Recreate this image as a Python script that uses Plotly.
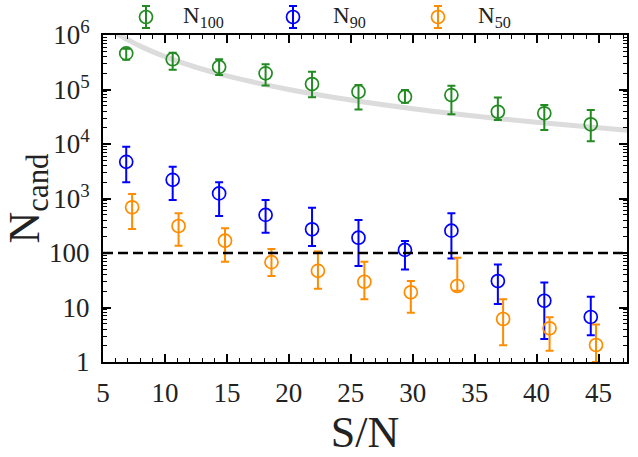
import plotly.graph_objects as go

# ---------------- data ----------------
sn_bins = [6.875, 10.625, 14.375, 18.125, 21.875, 25.625, 29.375, 33.125, 36.875, 40.625, 44.375]
sn_bins_n50 = [7.35, 11.1, 14.85, 18.6, 22.35, 26.1, 29.85, 33.6, 37.3, 41.05, 44.8]

n100 = [4.6e5, 3.6e5, 2.6e5, 1.98e5, 1.26e5, 9.1e4, 7.4e4, 7.9e4, 3.9e4, 3.66e4, 2.3e4]
n100_hi = [5.6e5, 4.7e5, 3.6e5, 2.9e5, 2.12e5, 1.21e5, 9.8e4, 1.17e5, 7.1e4, 5.2e4, 4.2e4]
n100_lo = [3.5e5, 2.3e5, 1.85e5, 1.19e5, 7.2e4, 4.3e4, 5.7e4, 3.5e4, 2.75e4, 1.8e4, 1.12e4]

n90 = [4.7e3, 2.2e3, 1.24e3, 500, 272, 191, 114, 257, 30.6, 13.3, 6.7]
n90_hi = [8.9e3, 3.84e3, 1.98e3, 938, 676, 404, 166, 535, 61.7, 28.8, 15.8]
n90_lo = [1.98e3, 938, 478, 235, 134, 57.7, 50, 79, 11.6, 2.63, 3.1]

n50 = [690, 313, 168, 68, 47, 29.7, 19, 24.8, 6.15, 4.15, 2.05]
n50_hi = [1.21e3, 535, 284, 118, 106, 69, 30.6, 82, 14.1, 6.6, 4.9]
n50_lo = [275, 136, 69, 37.8, 22.1, 14.1, 8.0, 20.4, 2.04, 1.61, 1.0]

# grey model curve
curve_x = [5.5, 7, 8, 10, 12.5, 15, 20, 25, 30, 35, 40, 47.3]
curve_y = [1.25e6, 8.2e5, 6.25e5, 4.0e5, 2.56e5, 1.78e5, 1.0e5, 6.4e4, 4.44e4, 3.27e4, 2.5e4, 1.79e4]

threshold = 100

series_names = ["N<sub>100</sub>", "N<sub>90</sub>", "N<sub>50</sub>"]
colors = ["#228B22", "#0000FF", "#FF8C00"]

x_ticks = [5, 10, 15, 20, 25, 30, 35, 40, 45]
y_tickvals = [1, 10, 100, 1e3, 1e4, 1e5, 1e6]
y_ticktext = ["1", "10", "100", "10<sup>3</sup>", "10<sup>4</sup>", "10<sup>5</sup>", "10<sup>6</sup>"]

# ---------------- layout constants ----------------
W, H = 638, 457
ML, MR, MB = 103, 11, 95
PLOT_TOP = 35
FONT = "Liberation Serif"
TXT = "#222222"
MSIZE = 13

fig = go.Figure()

fig.add_trace(go.Scatter(x=curve_x, y=curve_y, mode="lines",
                         line=dict(color="#dcdcdc", width=5, shape="spline"),
                         showlegend=False, hoverinfo="skip"))

fig.add_hline(y=threshold, line=dict(color="black", width=2.5, dash="10px,5px"))

def add_series(x, y, lo, hi, color):
    fig.add_trace(go.Scatter(
        x=x, y=y, mode="markers",
        marker=dict(symbol="circle-open", size=MSIZE, color=color, line=dict(width=1.7, color=color)),
        error_y=dict(type="data", symmetric=False,
                     array=[h - v for h, v in zip(hi, y)],
                     arrayminus=[v - l for l, v in zip(lo, y)],
                     color=color, thickness=2, width=4),
        showlegend=False))

add_series(sn_bins, n100, n100_lo, n100_hi, colors[0])
add_series(sn_bins, n90, n90_lo, n90_hi, colors[1])
add_series(sn_bins_n50, n50, n50_lo, n50_hi, colors[2])

# manual legend (marker with error bar + label) in the top strip
leg_marker_px = [146, 293, 438]
leg_text_px = [181, 331, 476]
for name, col, mx, tx in zip(series_names, colors, leg_marker_px, leg_text_px):
    fig.add_trace(go.Scatter(
        x=[mx], y=[17], xaxis="x2", yaxis="y2", mode="markers",
        marker=dict(symbol="circle-open", size=MSIZE, color=col, line=dict(width=1.7, color=col)),
        error_y=dict(type="constant", value=11, color=col, thickness=2, width=4),
        showlegend=False, hoverinfo="skip", cliponaxis=False))
    fig.add_annotation(x=tx, y=17, xref="x2", yref="y2", text=name, showarrow=False,
                       xanchor="left", yanchor="middle",
                       font=dict(family=FONT, size=23, color=TXT))

plot_h = H - MB
dom_top = (plot_h - PLOT_TOP) / plot_h

axis_common = dict(showline=True, linecolor="black", linewidth=2, mirror="ticks",
                   ticks="inside", ticklen=8, tickwidth=1.5, tickcolor="black",
                   showgrid=False, zeroline=False, automargin=False,
                   tickfont=dict(family=FONT, size=27, color=TXT))

fig.update_layout(
    width=W, height=H,
    margin=dict(l=ML, r=MR, t=0, b=MB, pad=0),
    paper_bgcolor="white", plot_bgcolor="white",
    showlegend=False,
    font=dict(family=FONT, color=TXT),
    xaxis=dict(range=[5, 47.3], tickvals=x_ticks, domain=[0, 1],
               minor=dict(ticks="inside", ticklen=4, tickwidth=1.2, dtick=1, tickcolor="black"),
               title=dict(text="S/N", font=dict(family=FONT, size=44, color=TXT), standoff=0),
               ticklabelstandoff=6,
               **axis_common),
    yaxis=dict(type="log", range=[0, 6], domain=[0, dom_top],
               tickvals=y_tickvals, ticktext=y_ticktext,
               minor=dict(ticks="inside", ticklen=4, tickwidth=1.2, dtick="D1", tickcolor="black"),
               title=dict(text="N<sub>cand</sub>", font=dict(family=FONT, size=44, color=TXT), standoff=6),
               ticklabelstandoff=6,
               **axis_common),
    xaxis2=dict(domain=[0, 1], range=[ML, W - MR], anchor="y2", visible=False, fixedrange=True),
    yaxis2=dict(domain=[dom_top, 1], range=[PLOT_TOP, 0], anchor="x2", visible=False, fixedrange=True),
)

fig.write_html("out.html", config={"displayModeBar": False},
               post_script="document.body.style.margin='0';")
